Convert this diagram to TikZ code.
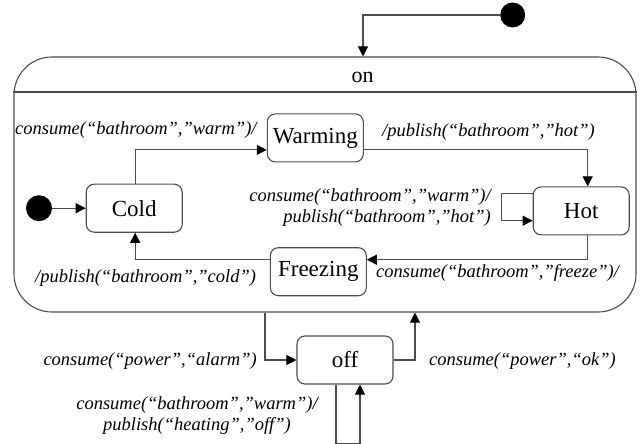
\documentclass[tikz,border=0pt]{standalone}
\usepackage{fontspec}
\setmainfont{LiberationSerif}[
  Extension=.ttf,
  UprightFont=*-Regular,
  ItalicFont=*-Italic,
  BoldFont=*-Bold,
  BoldItalicFont=*-BoldItalic]
\usetikzlibrary{arrows.meta,calc}
\begin{document}
\begin{tikzpicture}[x=1pt,y=-1pt,
  line/.style={draw=black!70, line width=1.1pt},
  arr/.style={line, -{Triangle[length=10pt,width=10pt,color=black]}},
  statebox/.style={line, rectangle, rounded corners=8pt, minimum width=96pt,
    minimum height=48pt, inner sep=0pt, font=\fontsize{23}{26}\selectfont},
  initdot/.style={circle, fill=black, draw=none, inner sep=0pt},
  evlabel/.style={inner sep=0pt, font=\fontsize{18.5}{21}\selectfont\itshape}]
\useasboundingbox (0,0) rectangle (641,444);

% composite state "on"
\node[line, rectangle, rounded corners=38pt, minimum width=622pt,
      minimum height=255pt, inner sep=0pt] (on) at (325,184.5) {};
\draw[line] (on.west |- 0,92) -- (on.east |- 0,92);
\node[inner sep=0pt, font=\fontsize{22}{24}\selectfont, anchor=base]
  (ontitle) at (362.5,83) {on};

% top-level initial state
\node[initdot, minimum size=25pt] (init1) at (512.7,15) {};
\draw[arr] (init1) -| ([xshift=38pt]on.north);

% substates
\node[statebox] (cold)     at (134.2,208.2) {Cold};
\node[statebox] (warming)  at (315.3,137.9) {Warming};
\node[statebox] (hot)      at (581.2,210.9) {Hot};
\node[statebox] (freezing) at (318.3,271.7) {Freezing};
\node[initdot, minimum size=26pt] (init2) at (39,208.2) {};

\draw[arr] (init2) -- (cold.west);
\draw[arr] ([xshift=1pt]cold.north) |- ([yshift=-12pt]warming.west);
\draw[arr] ([yshift=-11.5pt]warming.east) -| ([xshift=6.5pt]hot.north);
\draw[arr] ([yshift=17.6pt]hot.west) -- ++(-31.5,0) |- ([yshift=-9.8pt]hot.west);
\draw[arr] ([xshift=6.5pt]hot.south) |- ([yshift=12pt]freezing.east);
\draw[arr] ([yshift=12pt]freezing.west) -| ([xshift=1pt]cold.south);

% state "off"
\node[statebox] (off) at (345,360) {off};
\draw[arr] ([xshift=-60pt]on.south) |- (off.west);
\draw[arr] (off.east) -| ([xshift=90pt]on.south);
\draw[arr] ([xshift=-9pt]off.south) -- ++(0,59) -| ([xshift=15pt]off.south);

% transition labels
\node[evlabel, anchor=base west] (l1) at (15,135) {consume(“bathroom”,”warm”)/};
\node[evlabel, anchor=base west] (l2) at (382,137) {/publish(“bathroom”,”hot”)};
\node[evlabel, anchor=east, align=right] (l3) at (491,207.5)
  {consume(“bathroom”,”warm”)/\\publish(“bathroom”,”hot”)};
\node[evlabel, anchor=base west] (l4) at (35,282) {/publish(“bathroom”,”cold”)};
\node[evlabel, anchor=base west] (l5) at (376,277) {consume(“bathroom”,”freeze”)/};
\node[evlabel, anchor=east] (l6) at (257,361) {consume(“power”,“alarm”)};
\node[evlabel, anchor=west] (l7) at (429,361) {consume(“power”,“ok”)};
\node[evlabel, align=center] (l8) at (197,416)
  {consume(“bathroom”,”warm”)/\\publish(“heating”,”off”)};
\end{tikzpicture}
\end{document}
